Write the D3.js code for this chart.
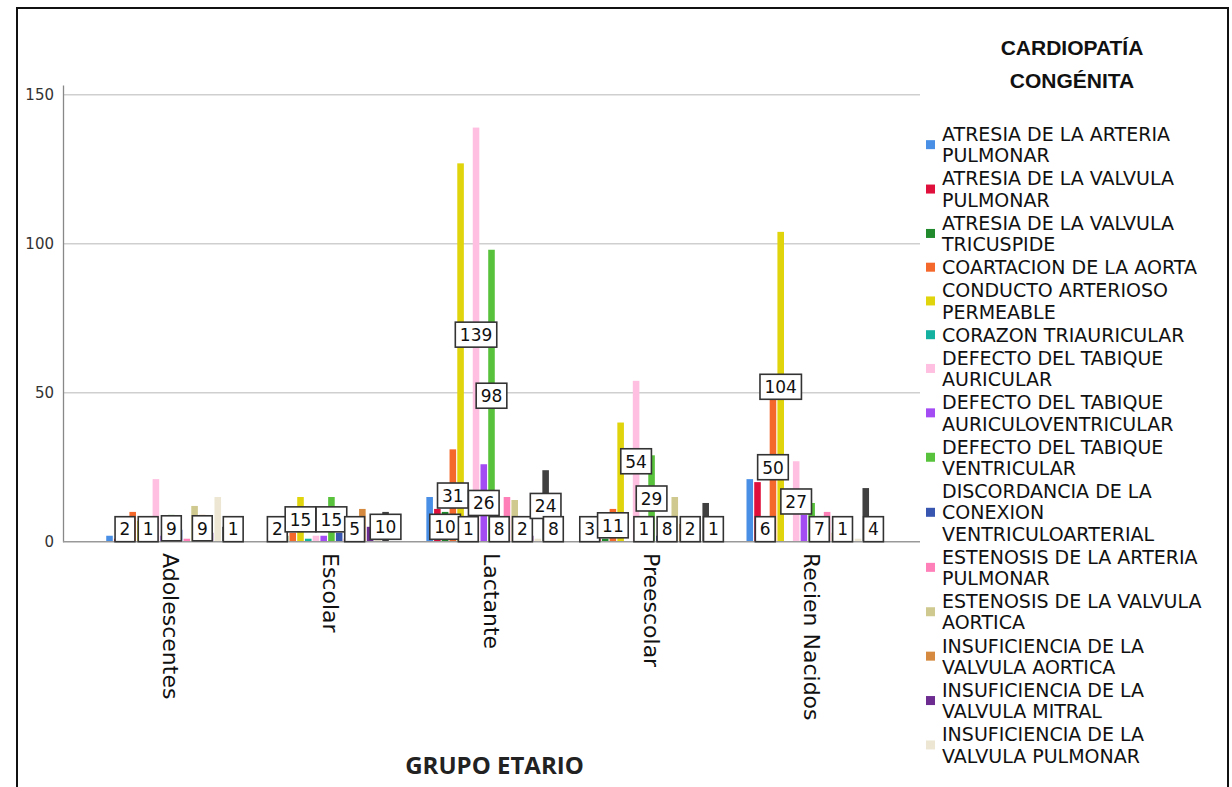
<!DOCTYPE html>
<html>
<head>
<meta charset="utf-8">
<script src="https://cdn.jsdelivr.net/npm/d3@7"></script>
<style>
  body { margin: 0; background: #fff; }
  text { font-family: "DejaVu Sans", sans-serif; }
</style>
</head>
<body>
<div id="container"></div>
<script>
/* CONSTANTS AND GLOBALS */
const width = 1232,
  height = 787;

// age groups (x categories)
const groups = ["Adolescentes", "Escolar", "Lactante", "Preescolar", "Recien Nacidos"];

// congenital heart disease series (last two fall outside the visible legend)
const series = [
  "ATRESIA DE LA ARTERIA PULMONAR",
  "ATRESIA DE LA VALVULA PULMONAR",
  "ATRESIA DE LA VALVULA TRICUSPIDE",
  "COARTACION DE LA AORTA",
  "CONDUCTO ARTERIOSO PERMEABLE",
  "CORAZON TRIAURICULAR",
  "DEFECTO DEL TABIQUE AURICULAR",
  "DEFECTO DEL TABIQUE AURICULOVENTRICULAR",
  "DEFECTO DEL TABIQUE VENTRICULAR",
  "DISCORDANCIA DE LA CONEXION VENTRICULOARTERIAL",
  "ESTENOSIS DE LA ARTERIA PULMONAR",
  "ESTENOSIS DE LA VALVULA AORTICA",
  "INSUFICIENCIA DE LA VALVULA AORTICA",
  "INSUFICIENCIA DE LA VALVULA MITRAL",
  "INSUFICIENCIA DE LA VALVULA PULMONAR",
  "INSUFICIENCIA DE LA VALVULA TRICUSPIDE",
  "TETRALOGIA DE FALLOT"
];

const colors = ["#4a8fe6", "#e0103c", "#218a2c", "#f5682c", "#e0d40c", "#14b0a0",
  "#ffbfe0", "#a44cf4", "#58c23c", "#3856b0", "#ff80b8", "#cfc98f",
  "#d58a40", "#6d2c90", "#ece6d2", "#404040", "#8fc4e8"];

// counts per group, one value per series (same order as `series`)
const adolescentes = [2, 1, 2, 10, 7, 1, 21, 2, 9, 4, 1, 12, 9, 3, 15, 5, 1];
const escolar      = [0, 2, 2, 3, 15, 1, 2, 2, 15, 3, 1, 5, 11, 5, 1, 10, 0];
const lactante     = [15, 11, 10, 31, 127, 1, 139, 26, 98, 8, 15, 14, 2, 2, 1, 24, 8];
const preescolar   = [3, 1, 1, 11, 40, 0, 54, 1, 29, 2, 8, 15, 6, 2, 0, 13, 1];
const recien       = [21, 20, 6, 50, 104, 0, 27, 9, 13, 7, 10, 3, 1, 0, 1, 18, 4];
const values = [adolescentes, escolar, lactante, preescolar, recien];

// which series carry a value label in each group
const labelled = [
  [2, 5, 8, 12, 16],
  [1, 4, 8, 11, 15],
  [2, 3, 5, 6, 7, 8, 9, 12, 15, 16],
  [0, 3, 6, 7, 8, 10, 13, 16],
  [2, 3, 4, 6, 9, 12, 16]
];

const yTicks = [0, 50, 100, 150];

const data = [];
groups.forEach((g, gi) => {
  series.forEach((s, si) => {
    data.push({ group: g, gi: gi, si: si, value: values[gi][si], label: labelled[gi].includes(si) });
  });
});

const svg = d3.select("#container")
  .append("svg")
  .attr("width", width)
  .attr("height", height);

// outer frame
svg.append("rect")
  .attr("x", 17).attr("y", 8)
  .attr("width", 1211).attr("height", 800)
  .attr("fill", "none")
  .attr("stroke", "#111")
  .attr("stroke-width", 2);

/* SCALES */
const plotLeft = 63, plotRight = 920;

const yScale = d3.scaleLinear()
  .domain([0, 153.3])
  .range([541.7, 85]);

const xScale = d3.scaleBand()
  .domain(groups)
  .range([plotLeft, plotRight])
  .paddingInner(0.186)
  .paddingOuter(0.27);

const xInner = d3.scaleBand()
  .domain(d3.range(series.length))
  .range([0, xScale.bandwidth()])
  .paddingInner(0.15);

/* GRID + AXES */
svg.append("g")
  .selectAll("line")
  .data(yTicks.filter(d => d > 0))
  .join("line")
  .attr("x1", plotLeft).attr("x2", plotRight)
  .attr("y1", d => yScale(d)).attr("y2", d => yScale(d))
  .attr("stroke", "#cfcfcf")
  .attr("stroke-width", 1.5);

const yAxis = svg.append("g")
  .attr("transform", `translate(${plotLeft},0)`)
  .call(d3.axisLeft(yScale).tickValues(yTicks).tickSize(0).tickPadding(9));
yAxis.select(".domain").attr("stroke", "#888").attr("stroke-width", 1.3);
yAxis.selectAll("text")
  .style("font-family", "DejaVu Sans")
  .style("font-size", "15px")
  .attr("fill", "#333");

// bars
svg.append("g")
  .selectAll("rect")
  .data(data)
  .join("rect")
  .attr("x", d => xScale(d.group) + xInner(d.si))
  .attr("y", d => yScale(d.value))
  .attr("width", xInner.bandwidth())
  .attr("height", d => yScale(0) - yScale(d.value))
  .attr("fill", d => colors[d.si]);

// baseline
svg.append("line")
  .attr("x1", plotLeft).attr("x2", plotRight)
  .attr("y1", yScale(0)).attr("y2", yScale(0))
  .attr("stroke", "#999")
  .attr("stroke-width", 1.5);

// value labels (boxes sit at half the bar height, never below the baseline)
const boxH = 25;
const lab = svg.append("g")
  .selectAll("g")
  .data(data.filter(d => d.label))
  .join("g")
  .attr("transform", d => {
    const cx = xScale(d.group) + xInner(d.si) + xInner.bandwidth() / 2;
    const cy = Math.min(yScale(d.value / 2), yScale(0) - boxH / 2);
    return `translate(${cx},${cy})`;
  });

lab.append("text")
  .attr("text-anchor", "middle")
  .attr("dy", "0.37em")
  .style("font-size", "17px")
  .attr("fill", "#111")
  .text(d => d.value);

lab.insert("rect", "text")
  .each(function() {
    const w = this.parentNode.querySelector("text").getComputedTextLength() + 9;
    d3.select(this)
      .attr("x", -w / 2).attr("y", -boxH / 2)
      .attr("width", w).attr("height", boxH);
  })
  .attr("fill", "#fff")
  .attr("stroke", "#333")
  .attr("stroke-width", 1.6);

// category labels, rotated
svg.append("g")
  .selectAll("text")
  .data(groups)
  .join("text")
  .attr("transform", d => `translate(${xScale(d) + xScale.bandwidth() / 2 - 8},553) rotate(90)`)
  .style("font-size", "22px")
  .attr("fill", "#111")
  .text(d => d);

// x axis title
svg.append("text")
  .attr("x", (plotLeft + plotRight) / 2 + 3)
  .attr("y", 774)
  .attr("text-anchor", "middle")
  .style("font-family", "'Open Sans', sans-serif")
  .style("font-weight", "bold")
  .style("font-size", "24px")
  .attr("fill", "#222")
  .text("GRUPO ETARIO");

/* LEGEND */
const legend = svg.append("g");

legend.selectAll(".ltitle")
  .data(["CARDIOPATÍA", "CONGÉNITA"])
  .join("text")
  .attr("class", "ltitle")
  .attr("x", 1072)
  .attr("y", (d, i) => 55 + i * 33)
  .attr("text-anchor", "middle")
  .style("font-family", "'Liberation Sans', Arial, sans-serif")
  .style("font-weight", "bold")
  .style("font-size", "21px")
  .attr("fill", "#111")
  .text(d => d);

const items = legend.append("g");
const lineH = 21.3, gap = 1.8, maxW = 275, legendBottom = 768;
let yCursor = 141;

series.forEach((name, i) => {
  const g = items.append("g");
  const t = g.append("text")
    .attr("x", 942)
    .style("font-size", "19px")
    .attr("fill", "#111");
  // simple word wrap
  const words = name.split(" ");
  let lines = [], cur = "";
  words.forEach(w => {
    const test = cur ? cur + " " + w : w;
    t.text(test);
    if (t.node().getComputedTextLength() > maxW && cur) {
      lines.push(cur);
      cur = w;
    } else {
      cur = test;
    }
  });
  lines.push(cur);
  t.text(null);
  // entries that don't fit in the legend area are left out (as in the original)
  if (yCursor + (lines.length - 1) * lineH + 5 > legendBottom) {
    g.remove();
    yCursor += lines.length * lineH + gap;
    return;
  }
  lines.forEach((l, li) => {
    t.append("tspan")
      .attr("x", 942)
      .attr("y", yCursor + li * lineH)
      .text(l);
  });
  const top = yCursor - 14, bottom = yCursor + (lines.length - 1) * lineH;
  g.append("rect")
    .attr("x", 926)
    .attr("y", (top + bottom) / 2 - 4.5)
    .attr("width", 9).attr("height", 9)
    .attr("fill", colors[i]);
  yCursor += lines.length * lineH + gap;
});
</script>
</body>
</html>
